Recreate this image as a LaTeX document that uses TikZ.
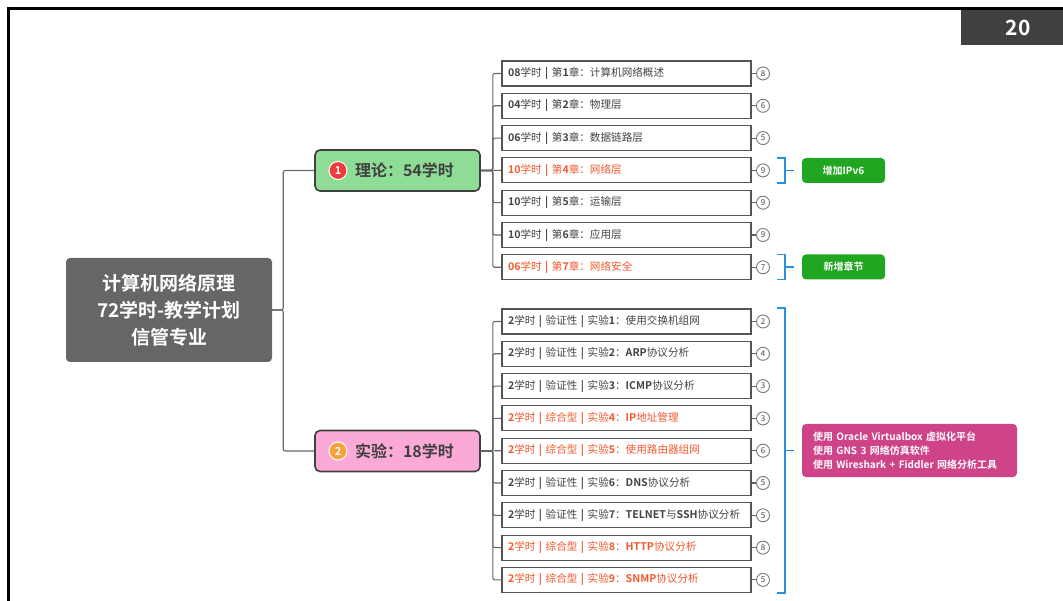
\documentclass[tikz,border=0pt]{standalone}
\usepackage{fontspec}
\setmainfont{Noto Sans CJK SC}[BoldFont={* Bold}]
\usepackage{tikz}
\definecolor{rootgray}{HTML}{666666}
\definecolor{pagegray}{HTML}{404040}
\definecolor{itemtext}{HTML}{444444}
\definecolor{itemred}{HTML}{F4592E}
\definecolor{itemborder}{HTML}{555555}
\definecolor{busgray}{HTML}{666666}
\definecolor{circgray}{HTML}{7A7A7A}
\definecolor{theorygreen}{HTML}{8EDC95}
\definecolor{labpink}{HTML}{FBA9D6}
\definecolor{iconred}{HTML}{EE3B3B}
\definecolor{iconorange}{HTML}{F6A13A}
\definecolor{braceblue}{HTML}{2A90DC}
\definecolor{notegreen}{HTML}{21A621}
\definecolor{notemagenta}{HTML}{CF4388}
\newcommand{\hb}[1]{\textbf{#1}}

\begin{document}
\begin{tikzpicture}[x=1pt,y=-1pt,
					rootnode/.style={rectangle, rounded corners=4pt, fill=rootgray, text=white, align=center, minimum width=206pt, minimum height=104pt, font=\bfseries\fontsize{19}{27}\selectfont},
					branchnode/.style={rectangle, rounded corners=5pt, draw=pagegray, line width=1.6pt, minimum height=41pt, text width=165pt, inner xsep=0pt, align=left, text=pagegray, font=\bfseries\fontsize{16}{16}\selectfont},
					iconnode/.style={circle, draw=white, line width=1pt, minimum size=18pt, inner sep=0pt, text=white, font=\bfseries\fontsize{11}{11}\selectfont},
					itemnode/.style={rectangle, draw=itemborder, line width=1.1pt, fill=white, minimum height=25pt, text width=237pt, inner xsep=6pt, inner ysep=0pt, align=left, text=itemtext, font=\fontsize{10.6}{12}\selectfont},
					reditem/.style={itemnode, text=itemred},
					numnode/.style={circle, draw=circgray, line width=0.9pt, fill=white, minimum size=13pt, inner sep=0pt, text=itemtext, font=\fontsize{8}{8}\selectfont},
					notenode/.style={rectangle, rounded corners=4pt, text=white, inner sep=0pt, font=\bfseries\fontsize{10}{14}\selectfont},
					bus/.style={draw=busgray, line width=1.1pt, rounded corners=2pt},
					brace/.style={draw=braceblue, line width=1.3pt},
					]
					\useasboundingbox (0,0) rectangle (1063,601);
					%Frame
					\draw[line width=3pt] (8.5,601) |- (1063,8.5);
					\node[fill=pagegray, text=white, minimum width=114pt, minimum height=35pt, font=\bfseries\fontsize{21}{21}\selectfont] (page) at (1018,27.5) {20};
					
					%Nodes
					\node[rootnode]      (root)    at (169,310)      {计算机网络原理\\72学时-教学计划\\信管专业};
					\node[branchnode, fill=theorygreen] (theory) at (397.5,170.5) {\hspace*{40pt}理论：54学时};
					\node[branchnode, fill=labpink]     (lab)    at (397.5,451)   {\hspace*{40pt}实验：18学时};
					\node[iconnode, fill=iconred]       (icon1)  at (338,170.5)   {1};
					\node[iconnode, fill=iconorange]    (icon2)  at (338,451)     {2};
					
					\node[itemnode]      (t1)      at (626.5,73.5)   {\hb{08}学时 \hb{|} 第\hb{1}章：计算机网络概述};
					\node[itemnode]      (t2)      at (626.5,105.8)  {\hb{04}学时 \hb{|} 第\hb{2}章：物理层};
					\node[itemnode]      (t3)      at (626.5,138.1)  {\hb{06}学时 \hb{|} 第\hb{3}章：数据链路层};
					\node[reditem]       (t4)      at (626.5,170.4)  {\hb{10}学时 \hb{|} 第\hb{4}章：网络层};
					\node[itemnode]      (t5)      at (626.5,202.7)  {\hb{10}学时 \hb{|} 第\hb{5}章：运输层};
					\node[itemnode]      (t6)      at (626.5,235)    {\hb{10}学时 \hb{|} 第\hb{6}章：应用层};
					\node[reditem]       (t7)      at (626.5,267.3)  {\hb{06}学时 \hb{|} 第\hb{7}章：网络安全};
					
					\node[itemnode]      (e1)      at (626.5,321.5)  {\hb{2}学时 \hb{|} 验证性 \hb{|} 实验\hb{1}：使用交换机组网};
					\node[itemnode]      (e2)      at (626.5,353.8)  {\hb{2}学时 \hb{|} 验证性 \hb{|} 实验\hb{2}：\hb{ARP}协议分析};
					\node[itemnode]      (e3)      at (626.5,386.1)  {\hb{2}学时 \hb{|} 验证性 \hb{|} 实验\hb{3}：\hb{ICMP}协议分析};
					\node[reditem]       (e4)      at (626.5,418.4)  {\hb{2}学时 \hb{|} 综合型 \hb{|} 实验\hb{4}：\hb{IP}地址管理};
					\node[reditem]       (e5)      at (626.5,450.7)  {\hb{2}学时 \hb{|} 综合型 \hb{|} 实验\hb{5}：使用路由器组网};
					\node[itemnode]      (e6)      at (626.5,483)    {\hb{2}学时 \hb{|} 验证性 \hb{|} 实验\hb{6}：\hb{DNS}协议分析};
					\node[itemnode]      (e7)      at (626.5,515.3)  {\hb{2}学时 \hb{|} 验证性 \hb{|} 实验\hb{7}：\hb{TELNET}与\hb{SSH}协议分析};
					\node[reditem]       (e8)      at (626.5,547.6)  {\hb{2}学时 \hb{|} 综合型 \hb{|} 实验\hb{8}：\hb{HTTP}协议分析};
					\node[reditem]       (e9)      at (626.5,579.9)  {\hb{2}学时 \hb{|} 综合型 \hb{|} 实验\hb{9}：\hb{SNMP}协议分析};
					
					\node[numnode]       (nt1)     at (763,73.5)     {8};
					\node[numnode]       (nt2)     at (763,105.8)    {6};
					\node[numnode]       (nt3)     at (763,138.1)    {5};
					\node[numnode]       (nt4)     at (763,170.4)    {9};
					\node[numnode]       (nt5)     at (763,202.7)    {9};
					\node[numnode]       (nt6)     at (763,235)      {9};
					\node[numnode]       (nt7)     at (763,267.3)    {7};
					\node[numnode]       (ne1)     at (763,321.5)    {2};
					\node[numnode]       (ne2)     at (763,353.8)    {4};
					\node[numnode]       (ne3)     at (763,386.1)    {3};
					\node[numnode]       (ne4)     at (763,418.4)    {3};
					\node[numnode]       (ne5)     at (763,450.7)    {6};
					\node[numnode]       (ne6)     at (763,483)      {5};
					\node[numnode]       (ne7)     at (763,515.3)    {5};
					\node[numnode]       (ne8)     at (763,547.6)    {8};
					\node[numnode]       (ne9)     at (763,579.9)    {5};
					
					\node[notenode, fill=notegreen, minimum width=83pt, minimum height=25pt]   (ipv6)  at (843.5,170.5) {增加IPv6};
					\node[notenode, fill=notegreen, minimum width=83pt, minimum height=25pt]   (newch) at (843.5,267)   {新增章节};
					\node[notenode, fill=notemagenta, text width=193pt, inner xsep=11pt, minimum height=53pt, align=left] (tools) at (909.5,450.5)
					{使用 Oracle Virtualbox 虚拟化平台\\使用 GNS 3 网络仿真软件\\使用 Wireshark + Fiddler 网络分析工具};
					
					%Lines
					\draw[bus] (root.east) -- ++(11,0) |- (theory.west);
					\draw[bus] (root.east) -- ++(11,0) |- (lab.west);
					
					\draw[bus] (theory.east) -- ++(12,0) |- (t1.west);
					\draw[bus] (theory.east) -- ++(12,0) |- (t2.west);
					\draw[bus] (theory.east) -- ++(12,0) |- (t3.west);
					\draw[bus] (theory.east) -- (t4.west);
					\draw[bus] (theory.east) -- ++(12,0) |- (t5.west);
					\draw[bus] (theory.east) -- ++(12,0) |- (t6.west);
					\draw[bus] (theory.east) -- ++(12,0) |- (t7.west);
					
					\draw[bus] (lab.east) -- ++(12,0) |- (e1.west);
					\draw[bus] (lab.east) -- ++(12,0) |- (e2.west);
					\draw[bus] (lab.east) -- ++(12,0) |- (e3.west);
					\draw[bus] (lab.east) -- ++(12,0) |- (e4.west);
					\draw[bus] (lab.east) -- (e5.west);
					\draw[bus] (lab.east) -- ++(12,0) |- (e6.west);
					\draw[bus] (lab.east) -- ++(12,0) |- (e7.west);
					\draw[bus] (lab.east) -- ++(12,0) |- (e8.west);
					\draw[bus] (lab.east) -- ++(12,0) |- (e9.west);
					
					\draw[bus] (t1.east) -- (nt1.west);
					\draw[bus] (t2.east) -- (nt2.west);
					\draw[bus] (t3.east) -- (nt3.west);
					\draw[bus] (t4.east) -- (nt4.west);
					\draw[bus] (t5.east) -- (nt5.west);
					\draw[bus] (t6.east) -- (nt6.west);
					\draw[bus] (t7.east) -- (nt7.west);
					\draw[bus] (e1.east) -- (ne1.west);
					\draw[bus] (e2.east) -- (ne2.west);
					\draw[bus] (e3.east) -- (ne3.west);
					\draw[bus] (e4.east) -- (ne4.west);
					\draw[bus] (e5.east) -- (ne5.west);
					\draw[bus] (e6.east) -- (ne6.west);
					\draw[bus] (e7.east) -- (ne7.west);
					\draw[bus] (e8.east) -- (ne8.west);
					\draw[bus] (e9.east) -- (ne9.west);
					
					%Brackets
					\draw[brace] (777,158) -| (785,183) -- (777,183);
					\draw[brace] (785,170.5) -- (794,170.5);
					\draw[brace] (777,254.5) -| (785,279.5) -- (777,279.5);
					\draw[brace] (785,267) -- (794,267);
					\draw[brace] (777,308) -| (785,593) -- (777,593);
					\draw[brace] (785,450.5) -- (794,450.5);
				\end{tikzpicture}
\end{document}
